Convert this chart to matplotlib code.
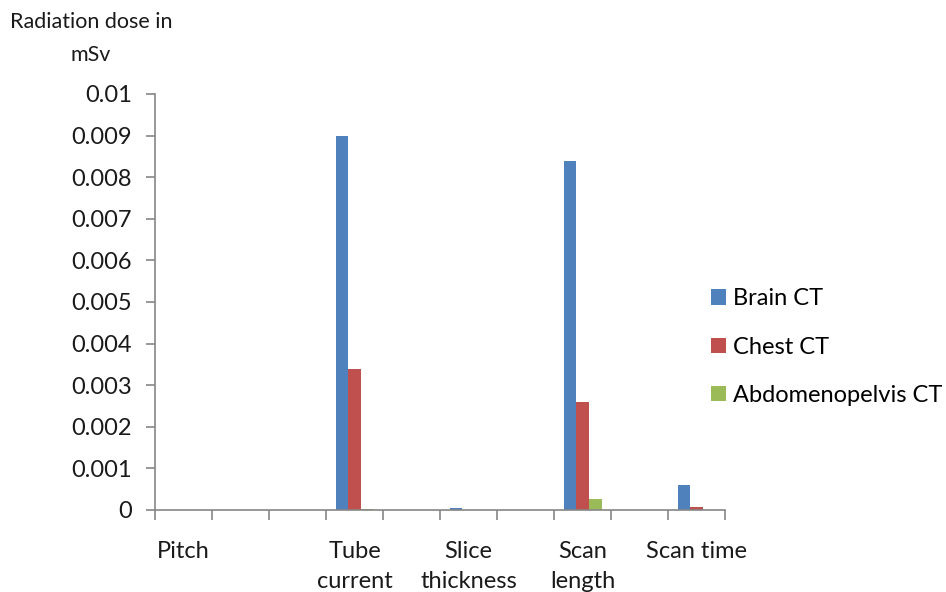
import matplotlib
matplotlib.use("Agg")
import matplotlib.pyplot as plt
import numpy as np

plt.rcParams['font.family'] = ['Lato', 'DejaVu Sans']

categories = ["Pitch", "", "", "Tube\ncurrent", "", "Slice\nthickness", "",
              "Scan\nlength", "", "Scan time"]
brain_ct = [0.00001, 0, 0, 0.009, 0, 0.00005, 0, 0.0084, 0, 0.0006]
chest_ct = [0.00001, 0, 0, 0.0034, 0, 0.00001, 0, 0.0026, 0, 0.00007]
abdo_ct = [0, 0, 0, 0.00003, 0, 0, 0, 0.00026, 0, 0]
series_names = ["Brain CT", "Chest CT", "Abdomenopelvis CT"]
series_colors = ["#4F81BD", "#C0504D", "#9BBB59"]
y_ticks = [0, 0.001, 0.002, 0.003, 0.004, 0.005, 0.006, 0.007, 0.008, 0.009, 0.01]
y_tick_labels = ["0", "0.001", "0.002", "0.003", "0.004", "0.005", "0.006",
                 "0.007", "0.008", "0.009", "0.01"]

W, H = 946, 592
fig = plt.figure(figsize=(W / 100, H / 100), dpi=100)
ax = fig.add_axes([155 / W, 1 - 510 / H, (725 - 155) / W, (510 - 94) / H])

x = np.arange(len(categories))
w = 1 / 4.5
for i, (vals, name, col) in enumerate(zip([brain_ct, chest_ct, abdo_ct],
                                           series_names, series_colors)):
    ax.bar(x + (i - 1) * w, vals, width=w, color=col, label=name, linewidth=0)

ax.set_xlim(-0.5, len(categories) - 0.5)
ax.set_ylim(0, 0.01)

axis_gray = "#868686"
text_col = "#1a1a1a"
for s in ["top", "right"]:
    ax.spines[s].set_visible(False)
for s in ["left", "bottom"]:
    ax.spines[s].set_color(axis_gray)
    ax.spines[s].set_linewidth(1.2)

ax.set_yticks(y_ticks)
ax.set_yticklabels(y_tick_labels, fontsize=17, color=text_col)
ax.tick_params(axis="y", direction="out", length=6.5, color=axis_gray, width=1.2, pad=10)

ax.set_xticks(x)
ax.set_xticklabels(categories, fontsize=17, color=text_col, va="top", linespacing=1.55)
ax.tick_params(axis="x", which="major", length=0, pad=22)
ax.set_xticks(np.arange(-0.5, len(categories), 1.0), minor=True)
ax.tick_params(axis="x", which="minor", direction="out", length=7, color=axis_gray, width=1.2)

fig.text(91 / W, 1 - 22 / H, "Radiation dose in", fontsize=15.5, ha="center", va="center",
         color=text_col)
fig.text(91 / W, 1 - 55 / H, "mSv", fontsize=15.5, ha="center", va="center", color=text_col)

fig.legend(loc="center left", bbox_to_anchor=(711 / W, 1 - 347 / H), frameon=False,
           fontsize=17, handlelength=0.62, handleheight=0.62, handletextpad=0.3,
           labelspacing=1.15, borderaxespad=0, borderpad=0)

fig.savefig("out.png", dpi=100)
